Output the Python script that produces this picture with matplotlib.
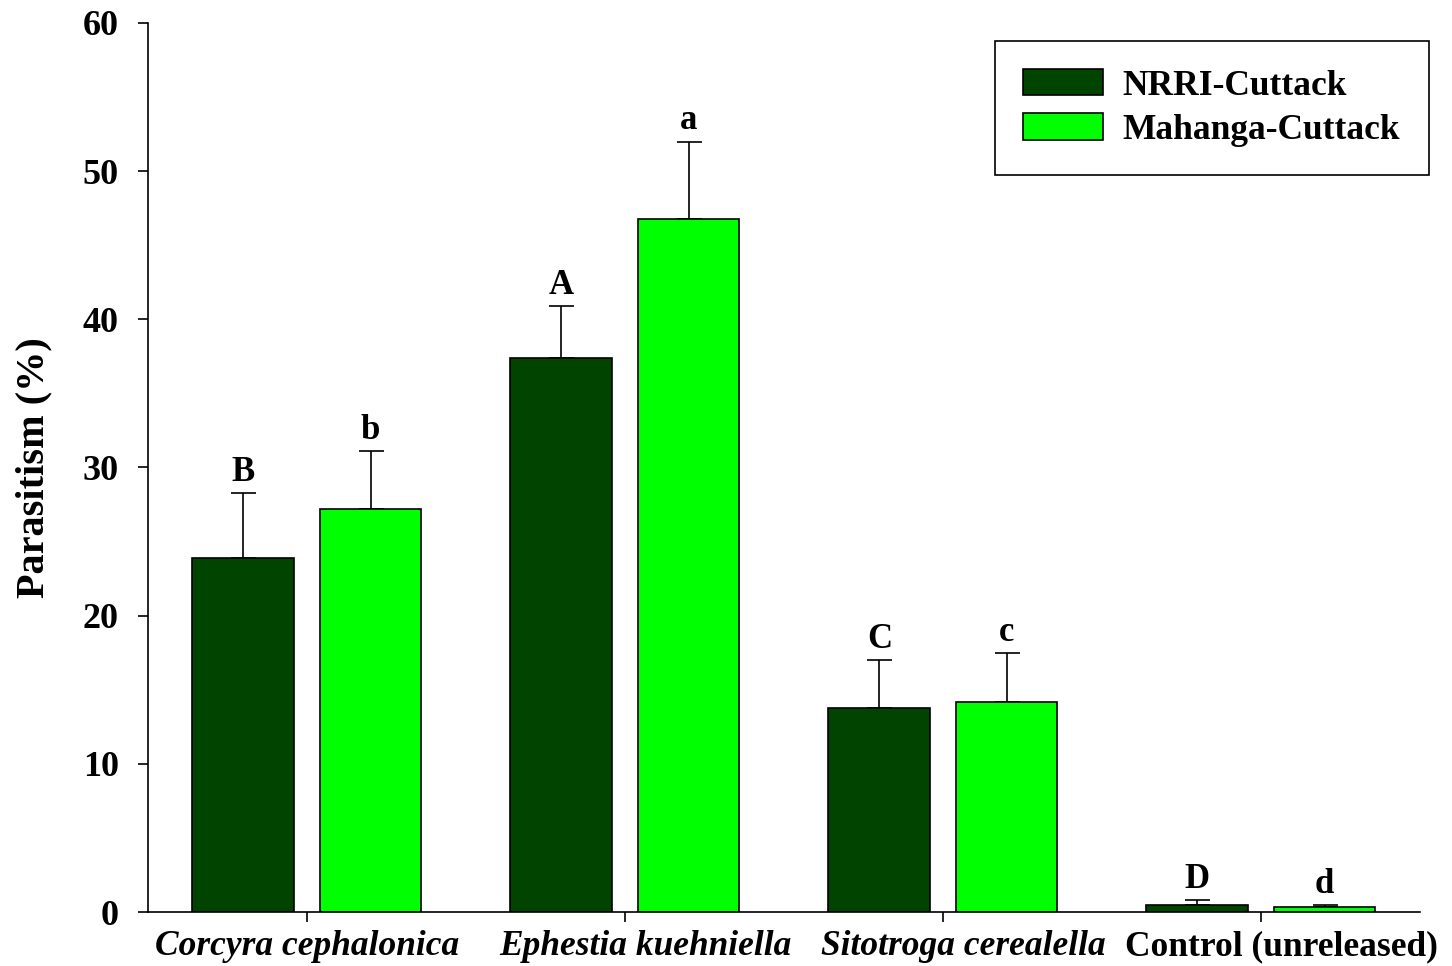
import numpy as np
import matplotlib.pyplot as plt

categories = ["Corcyra cephalonica", "Ephestia kuehniella", "Sitotroga cerealella", "Control (unreleased)"]
nrri = [23.9, 37.4, 13.8, 0.5]
nrri_err = [4.4, 3.5, 3.2, 0.3]
mahanga = [27.2, 46.8, 14.2, 0.35]
mahanga_err = [3.9, 5.2, 3.3, 0.1]
nrri_letters = ["B", "A", "C", "D"]
mahanga_letters = ["b", "a", "c", "d"]

plt.rcParams['font.family'] = ['Liberation Serif', 'DejaVu Serif']
plt.rcParams['font.weight'] = 'bold'

fig = plt.figure(figsize=(14.52, 9.66), dpi=100)
ax = fig.add_axes([0.1019, 0.0559, 0.8760, 0.9203])

x = np.arange(len(categories))
w = 0.32
off = 0.2

for vals, errs, letters, col, lab, sign in [
        (nrri, nrri_err, nrri_letters, '#004400', 'NRRI-Cuttack', -1),
        (mahanga, mahanga_err, mahanga_letters, '#00ff00', 'Mahanga-Cuttack', 1)]:
    xs = x + sign * off
    ax.bar(xs, vals, w, color=col, edgecolor='black', linewidth=1.2, label=lab, zorder=2)
    ax.errorbar(xs, vals, yerr=[np.zeros(len(vals)), errs], fmt='none',
                ecolor='black', elinewidth=1.2, capsize=9, capthick=1.2, zorder=1)
    for xi, v, e, t in zip(xs, vals, errs, letters):
        ax.annotate(t, (xi, v + e), xytext=(0, 3), textcoords='offset points',
                    ha='center', va='bottom', fontsize=25, fontweight='bold')

ax.set_xlim(-0.5, 3.5)
ax.set_ylim(0, 60)
ax.set_yticks(np.arange(0, 61, 10))
ax.set_xticks(x)
ax.set_xticklabels([])
# category names drawn by hand: in the original all but the first sit a bit right of the tick
for i, name in enumerate(categories):
    dx = 0 if i == 0 else 15
    ax.annotate(name, (x[i], 0), xycoords=('data', 'axes fraction'),
                xytext=(dx, -13), textcoords='offset points', ha='center', va='top',
                fontsize=25.5, fontweight='bold', style='italic' if i < 3 else 'normal')
for lbl in ax.get_yticklabels():
    lbl.set_fontsize(26)
    lbl.set_fontweight('bold')

ax.spines['top'].set_visible(False)
ax.spines['right'].set_visible(False)
ax.spines['left'].set_linewidth(1.2)
ax.spines['bottom'].set_linewidth(1.2)
ax.tick_params(axis='both', direction='out', length=7, width=1.2)
ax.tick_params(axis='y', pad=14)
ax.set_ylabel('Parasitism (%)', fontsize=29, fontweight='bold', labelpad=22)

leg = fig.legend(loc='upper left', bbox_to_anchor=(0.685, 0.9576), fontsize=25.5,
                 frameon=True, fancybox=False, edgecolor='black', framealpha=1,
                 handlelength=2.26, handleheight=0.76, handletextpad=0.56,
                 labelspacing=0.3, borderpad=0.8, borderaxespad=0)
leg.get_frame().set_linewidth(1.2)
for t in leg.get_texts():
    t.set_fontweight('bold')

fig.savefig('out.png', dpi=100)
